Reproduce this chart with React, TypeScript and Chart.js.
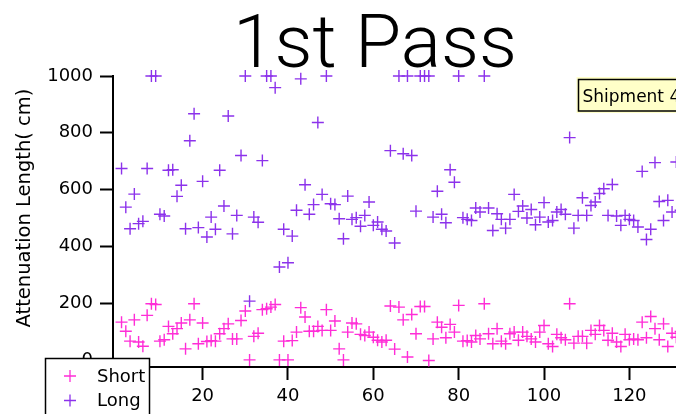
import React, { useEffect, useRef } from 'react';
import { Chart, registerables } from 'chart.js';

Chart.register(...registerables);

const TITLE = '1st Pass';
const Y_TITLE = 'Attenuation Length( cm)';
const ANNOTATION = 'Shipment 4';
const SERIES_NAMES = ['Short', 'Long'];
const SERIES_COLORS = ['rgb(255,45,215)', 'rgb(140,50,235)'];

const SAMPLE = [
  1, 2, 3, 4, 5, 6, 7, 8, 9, 10, 11, 12, 13, 14, 15, 16, 17, 18, 19, 20,
  21, 22, 23, 24, 25, 26, 27, 28, 29, 30, 31, 32, 33, 34, 35, 36, 37, 38, 39, 40,
  41, 42, 43, 44, 45, 46, 47, 48, 49, 50, 51, 52, 53, 54, 55, 56, 57, 58, 59, 60,
  61, 62, 63, 64, 65, 66, 67, 68, 69, 70, 71, 72, 73, 74, 75, 76, 77, 78, 79, 80,
  81, 82, 83, 84, 85, 86, 87, 88, 89, 90, 91, 92, 93, 94, 95, 96, 97, 98, 99, 100,
  101, 102, 103, 104, 105, 106, 107, 108, 109, 110, 111, 112, 113, 114, 115, 116, 117, 118, 119, 120,
  121, 122, 123, 124, 125, 126, 127, 128, 129, 130, 131, 132,
];

const SHORT = [
  133, 101, 66, 141, 63, 48, 157, 198, 195, 66,
  71, 118, 92, 110, 130, 39, 141, 198, 57, 130,
  65, 68, 66, 92, 110, 127, 74, 74, 139, 172,
  0, 83, 94, 177, 180, 186, 195, 0, 66, 0,
  68, 98, 184, 151, 101, 101, 118, 104, 177, 104,
  137, 39, 0, 98, 130, 127, 90, 86, 98, 80,
  69, 63, 69, 190, 38, 186, 141, 10, 160, 92,
  188, 188, -2, 74, 133, 115, 78, 125, 98, 192,
  66, 68, 63, 86, 74, 198, 92, 57, 110, 66,
  57, 92, 98, 69, 98, 83, 74, 63, 98, 121,
  57, 47, 90, 78, 71, 198, 59, 83, 83, 59,
  104, 90, 121, 104, 69, 94, 63, 47, 90, 71,
  74, 71, 133, 78, 153, 110, 71, 127, 47, 94,
  80, 100,
];

const LONG = [
  674, 538, 462, 584, 480, 488, 674, 1000, 1000, 513,
  507, 668, 670, 576, 615, 462, 772, 867, 466, 629,
  433, 503, 460, 668, 542, 859, 444, 509, 720, 1000,
  207, 503, 485, 702, 1000, 1000, 959, 327, 460, 342,
  436, 527, 990, 617, 513, 547, 836, 583, 1000, 550,
  547, 497, 427, 577, 495, 501, 471, 509, 556, 474,
  486, 460, 454, 737, 412, 1000, 726, 1000, 720, 524,
  1000, 1000, 1000, 503, 594, 513, 483, 670, 626, 1000,
  501, 495, 491, 535, 521, 1000, 535, 456, 515, 495,
  464, 495, 583, 523, 542, 500, 530, 476, 503, 554,
  486, 491, 521, 530, 513, 783, 464, 509, 571, 509,
  544, 556, 586, 603, 509, 618, 507, 474, 509, 495,
  491, 468, 664, 424, 460, 695, 558, 491, 562, 521,
  697, 527,
];

const X_TICKS = [0, 20, 40, 60, 80, 100, 120, 140];
const Y_TICKS = [0, 200, 400, 600, 800, 1000];
const X_MIN = -1;
const X_MAX = 141;
const Y_MIN = -25;
const Y_MAX = 1000;

const CANVAS_W = 750;
const CANVAS_H = 414;
const LABEL_FONT = '"DejaVu Sans", sans-serif';

const decorPlugin = {
  id: 'decor',
  afterDraw(chart: any) {
    const ctx = chart.ctx;
    ctx.save();
    // Title
    ctx.fillStyle = '#000';
    ctx.font = '300 75px Roboto, Lato, "Liberation Sans", sans-serif';
    ctx.textAlign = 'center';
    ctx.textBaseline = 'alphabetic';
    ctx.fillText(TITLE, chart.width / 2, 67);

    // Y axis title
    ctx.save();
    ctx.translate(25, 208);
    ctx.rotate(-Math.PI / 2);
    ctx.font = `19.5px ${LABEL_FONT}`;
    ctx.textAlign = 'center';
    ctx.textBaseline = 'middle';
    ctx.fillText(Y_TITLE, 0, 0);
    ctx.restore();

    // Annotation box
    ctx.fillStyle = '#FFFFC8';
    ctx.fillRect(576.5, 77, 140, 36);
    ctx.strokeStyle = '#000';
    ctx.lineWidth = 1.5;
    ctx.strokeRect(578.5, 79.5, 140, 31.5);
    ctx.fillStyle = '#000';
    ctx.font = `17px ${LABEL_FONT}`;
    ctx.textAlign = 'left';
    ctx.textBaseline = 'alphabetic';
    ctx.fillText(ANNOTATION, 582.5, 102);

    // Legend box
    ctx.fillStyle = '#fff';
    ctx.fillRect(45.5, 358.5, 104, 80);
    ctx.strokeStyle = '#000';
    ctx.lineWidth = 1.5;
    ctx.strokeRect(45.5, 358.5, 104, 80);
    chart.data.datasets.forEach((ds: any, i: number) => {
      const cy = 376 + i * 24.5;
      const cx = 70;
      ctx.strokeStyle = ds.borderColor;
      ctx.lineWidth = 1.3;
      ctx.beginPath();
      ctx.moveTo(cx - 6, cy);
      ctx.lineTo(cx + 6, cy);
      ctx.moveTo(cx, cy - 6);
      ctx.lineTo(cx, cy + 6);
      ctx.stroke();
      ctx.fillStyle = '#000';
      ctx.font = `18px ${LABEL_FONT}`;
      ctx.textAlign = 'left';
      ctx.textBaseline = 'middle';
      ctx.fillText(ds.label, 97, cy + 1);
    });
    ctx.restore();
  },
};

export default function App() {
  const ref = useRef<HTMLCanvasElement | null>(null);

  useEffect(() => {
    if (!ref.current) return;
    const series = [SHORT, LONG];
    const chart = new Chart(ref.current, {
      type: 'scatter',
      data: {
        datasets: series.map((vals, k) => ({
          label: SERIES_NAMES[k],
          data: vals.map((v, i) => ({ x: SAMPLE[i], y: v })),
          borderColor: SERIES_COLORS[k],
          backgroundColor: SERIES_COLORS[k],
          pointStyle: 'cross',
          pointRadius: 6,
          pointBorderWidth: 1.4,
          showLine: false,
          clip: false as any,
        })),
      },
      options: {
        responsive: false,
        animation: false,
        devicePixelRatio: 1,
        layout: { padding: { top: 76, left: 0, right: 31, bottom: 0 } },
        plugins: {
          legend: { display: false },
          title: { display: false },
          tooltip: { enabled: false },
        },
        scales: {
          x: {
            type: 'linear',
            min: X_MIN,
            max: X_MAX,
            afterBuildTicks: (s: any) => {
              s.ticks = X_TICKS.map((v) => ({ value: v }));
            },
            afterFit: (s: any) => {
              s.height = 47;
            },
            grid: {
              drawOnChartArea: false,
              drawTicks: true,
              tickLength: 13,
              tickWidth: 2,
              tickColor: '#000',
            },
            border: { display: true, color: '#000', width: 2 },
            ticks: {
              color: '#000',
              font: { family: LABEL_FONT, size: 18 },
              padding: 6,
              maxRotation: 0,
              autoSkip: false,
              callback: (v: any) => String(v),
            },
          },
          y: {
            type: 'linear',
            min: Y_MIN,
            max: Y_MAX,
            afterBuildTicks: (s: any) => {
              s.ticks = Y_TICKS.map((v) => ({ value: v }));
            },
            afterFit: (s: any) => {
              s.width = 113;
            },
            grid: {
              drawOnChartArea: false,
              drawTicks: true,
              tickLength: 13,
              tickWidth: 2,
              tickColor: '#000',
            },
            border: { display: true, color: '#000', width: 2 },
            ticks: {
              color: '#000',
              font: { family: LABEL_FONT, size: 18 },
              padding: 7,
              autoSkip: false,
              callback: (v: any) => String(v),
            },
          },
        },
      },
      plugins: [decorPlugin],
    });
    return () => chart.destroy();
  }, []);

  return (
    <div
      style={{
        position: 'absolute',
        left: 0,
        top: 0,
        width: 676,
        height: 414,
        overflow: 'hidden',
        background: '#fff',
      }}
    >
      <canvas
        ref={ref}
        width={CANVAS_W}
        height={CANVAS_H}
        style={{ display: 'block', width: CANVAS_W, height: CANVAS_H }}
      />
    </div>
  );
}
